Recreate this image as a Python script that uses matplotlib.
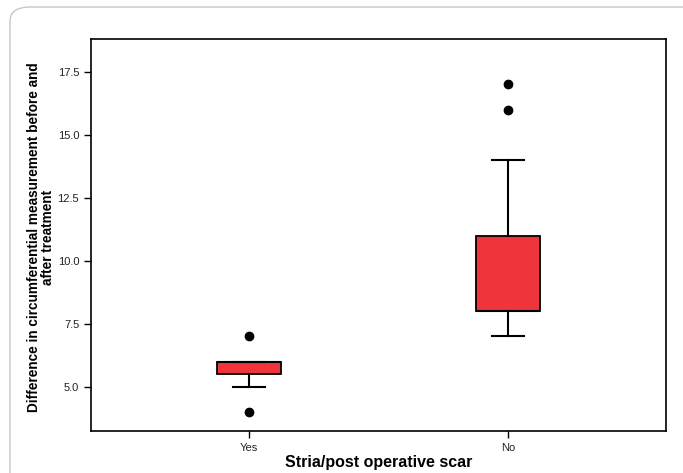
import matplotlib.pyplot as plt
from matplotlib.patches import FancyBboxPatch

groups = ["Yes", "No"]
# five-number summaries
q1 = [5.5, 8.0]
med = [6.0, 8.0]
q3 = [6.0, 11.0]
whislo = [5.0, 7.0]
whishi = [6.0, 14.0]
fliers = [[7.0, 4.0], [16.0, 17.0]]

yticks = [5.0, 7.5, 10.0, 12.5, 15.0, 17.5]

plt.rcParams['font.family'] = ['Liberation Sans', 'DejaVu Sans']

fig = plt.figure(figsize=(6.83, 4.73), dpi=100)

# light grey rounded frame around the figure
frame = FancyBboxPatch((10 / 683, -0.1), 1.2, 1.1 - 7 / 473,
                       boxstyle="round,pad=0,rounding_size=0.03",
                       transform=fig.transFigure, fill=False,
                       edgecolor="#c8c8c8", linewidth=1.0)
fig.patches.append(frame)

ax = fig.add_axes([91 / 683, 1 - 431 / 473, 575 / 683, 392 / 473])

stats = []
for i, g in enumerate(groups):
    stats.append(dict(label=g, q1=q1[i], med=med[i], q3=q3[i],
                      whislo=whislo[i], whishi=whishi[i], fliers=fliers[i]))

ax.bxp(stats, positions=[1, 2], widths=0.25, patch_artist=True,
       boxprops=dict(facecolor="#f0343c", edgecolor="black", linewidth=1.3),
       medianprops=dict(color="black", linewidth=1.5),
       whiskerprops=dict(color="black", linewidth=1.5),
       capprops=dict(color="black", linewidth=1.5),
       capwidths=0.125,
       flierprops=dict(marker="o", markerfacecolor="black",
                       markeredgecolor="black", markersize=6))

ax.set_xlim(0.389, 2.611)
ax.set_ylim(3.25, 18.8)
ax.set_yticks(yticks)
ax.set_yticklabels([f"{v:.1f}" for v in yticks])
ax.set_xticks([1, 2])
ax.set_xticklabels(groups)

for s in ax.spines.values():
    s.set_linewidth(1.2)
ax.tick_params(direction="out", length=5, width=1.0, labelsize=8,
               labelcolor="#222222")

fig.text(379 / 683, 1 - 462 / 473, "Stria/post operative scar",
         fontsize=11.5, fontweight="bold", ha="center", va="center")
fig.text(41 / 683, 1 - 237 / 473,
         "Difference in circumferential measurement before and\nafter treatment",
         fontsize=9.8, fontweight="bold", ha="center", va="center",
         rotation=90, linespacing=0.95,
         family=['Liberation Sans Narrow', 'Liberation Sans', 'DejaVu Sans'])

fig.savefig("out.png", dpi=100)
